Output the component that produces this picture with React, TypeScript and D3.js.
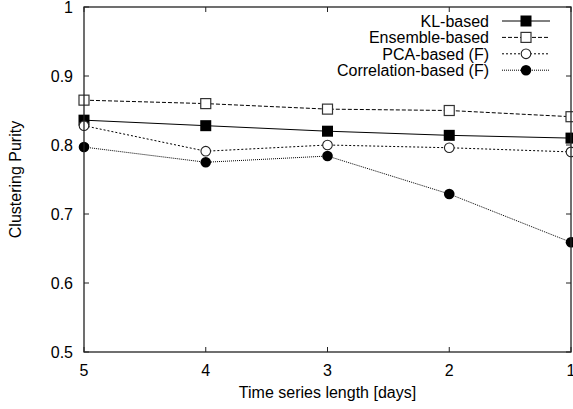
import React from 'react'
import * as d3 from 'd3'

const days = [5, 4, 3, 2, 1]
const klBased = [0.836, 0.828, 0.82, 0.814, 0.81]
const ensembleBased = [0.865, 0.86, 0.852, 0.85, 0.841]
const pcaBased = [0.828, 0.791, 0.8, 0.796, 0.79]
const corrBased = [0.797, 0.775, 0.784, 0.729, 0.659]
const yTicks = [0.5, 0.6, 0.7, 0.8, 0.9, 1]
const yTickLabels = ['0.5', '0.6', '0.7', '0.8', '0.9', '1']

const series = [
  { name: 'KL-based', values: klBased, dash: '', marker: 'square', filled: true },
  { name: 'Ensemble-based', values: ensembleBased, dash: '4,2', marker: 'square', filled: false },
  { name: 'PCA-based (F)', values: pcaBased, dash: '2,2', marker: 'circle', filled: false },
  { name: 'Correlation-based (F)', values: corrBased, dash: '1,1', marker: 'circle', filled: true },
]

const W = 573
const H = 409
const margin = { top: 7, right: 2, bottom: 57, left: 84 }
const font = 'Liberation Sans, Arial, sans-serif'

function Marker({ type, filled, x, y }: { type: string; filled: boolean; x: number; y: number }) {
  if (type === 'square') {
    const s = filled ? 11 : 10
    return (
      <rect x={x - s / 2} y={y - s / 2} width={s} height={s}
        fill={filled ? '#000' : '#fff'} stroke={filled ? 'none' : '#333'} strokeWidth={1.2} />
    )
  }
  return (
    <circle cx={x} cy={y} r={filled ? 5.3 : 4.8}
      fill={filled ? '#000' : '#fff'} stroke={filled ? 'none' : '#222'} strokeWidth={1.1} />
  )
}

export default function App() {
  const x0 = margin.left
  const x1 = W - margin.right
  const y0 = H - margin.bottom
  const y1 = margin.top

  const x = d3.scaleLinear().domain([5, 1]).range([x0, x1])
  const y = d3.scaleLinear().domain([0.5, 1]).range([y0, y1])

  const line = (vals: number[]) =>
    d3.line<number>().x((_, i) => x(days[i])).y(d => y(d))(vals) || ''

  const tick = 5
  const legendTextX = 489
  const legendY0 = 21
  const legendStep = 16.4

  return (
    <svg width={W} height={H} style={{ position: 'absolute', left: 0, top: 0, background: '#fff' }}>
      {/* axis ticks (mirrored, pointing inward) */}
      {yTicks.map(t => (
        <g key={'y' + t}>
          <line x1={x0} x2={x0 + tick} y1={y(t)} y2={y(t)} stroke="#222" />
          <line x1={x1} x2={x1 - tick} y1={y(t)} y2={y(t)} stroke="#222" />
        </g>
      ))}
      {days.map(d => (
        <g key={'x' + d}>
          <line x1={x(d)} x2={x(d)} y1={y0} y2={y0 - tick} stroke="#222" />
          <line x1={x(d)} x2={x(d)} y1={y1} y2={y1 + tick} stroke="#222" />
        </g>
      ))}

      {/* series lines */}
      {series.map(s => (
        <path key={s.name} d={line(s.values)} fill="none" stroke="#000"
          strokeWidth={1} strokeDasharray={s.dash || undefined} />
      ))}
      {series.map(s =>
        s.values.map((v, i) => (
          <Marker key={s.name + i} type={s.marker} filled={s.filled} x={x(days[i])} y={y(v)} />
        ))
      )}

      {/* frame */}
      <rect x={x0} y={y1} width={x1 - x0} height={y0 - y1} fill="none" stroke="#222" strokeWidth={1.3} />

      {/* tick labels */}
      {yTicks.map((t, i) => (
        <text key={'yl' + t} x={x0 - 11} y={y(t)} dy="0.36em" textAnchor="end"
          fontFamily={font} fontSize={16} fill="#000">{yTickLabels[i]}</text>
      ))}
      {days.map(d => (
        <text key={'xl' + d} x={x(d)} y={y0 + 24} textAnchor="middle"
          fontFamily={font} fontSize={16} fill="#000">{d}</text>
      ))}

      {/* axis titles */}
      <text x={(x0 + x1) / 2} y={H - 11} textAnchor="middle" fontFamily={font} fontSize={16}>
        Time series length [days]
      </text>
      <text transform={`translate(21,${(y0 + y1) / 2}) rotate(-90)`} textAnchor="middle"
        fontFamily={font} fontSize={16}>
        Clustering Purity
      </text>

      {/* legend */}
      {series.map((s, i) => {
        const ly = legendY0 + i * legendStep
        return (
          <g key={'lg' + s.name}>
            <text x={legendTextX} y={ly} dy="0.36em" textAnchor="end" fontFamily={font} fontSize={16}>
              {s.name}
            </text>
            <line x1={502} x2={550} y1={ly} y2={ly} stroke="#000" strokeWidth={1}
              strokeDasharray={s.dash || undefined} />
            <Marker type={s.marker} filled={s.filled} x={526} y={ly} />
          </g>
        )
      })}
    </svg>
  )
}
